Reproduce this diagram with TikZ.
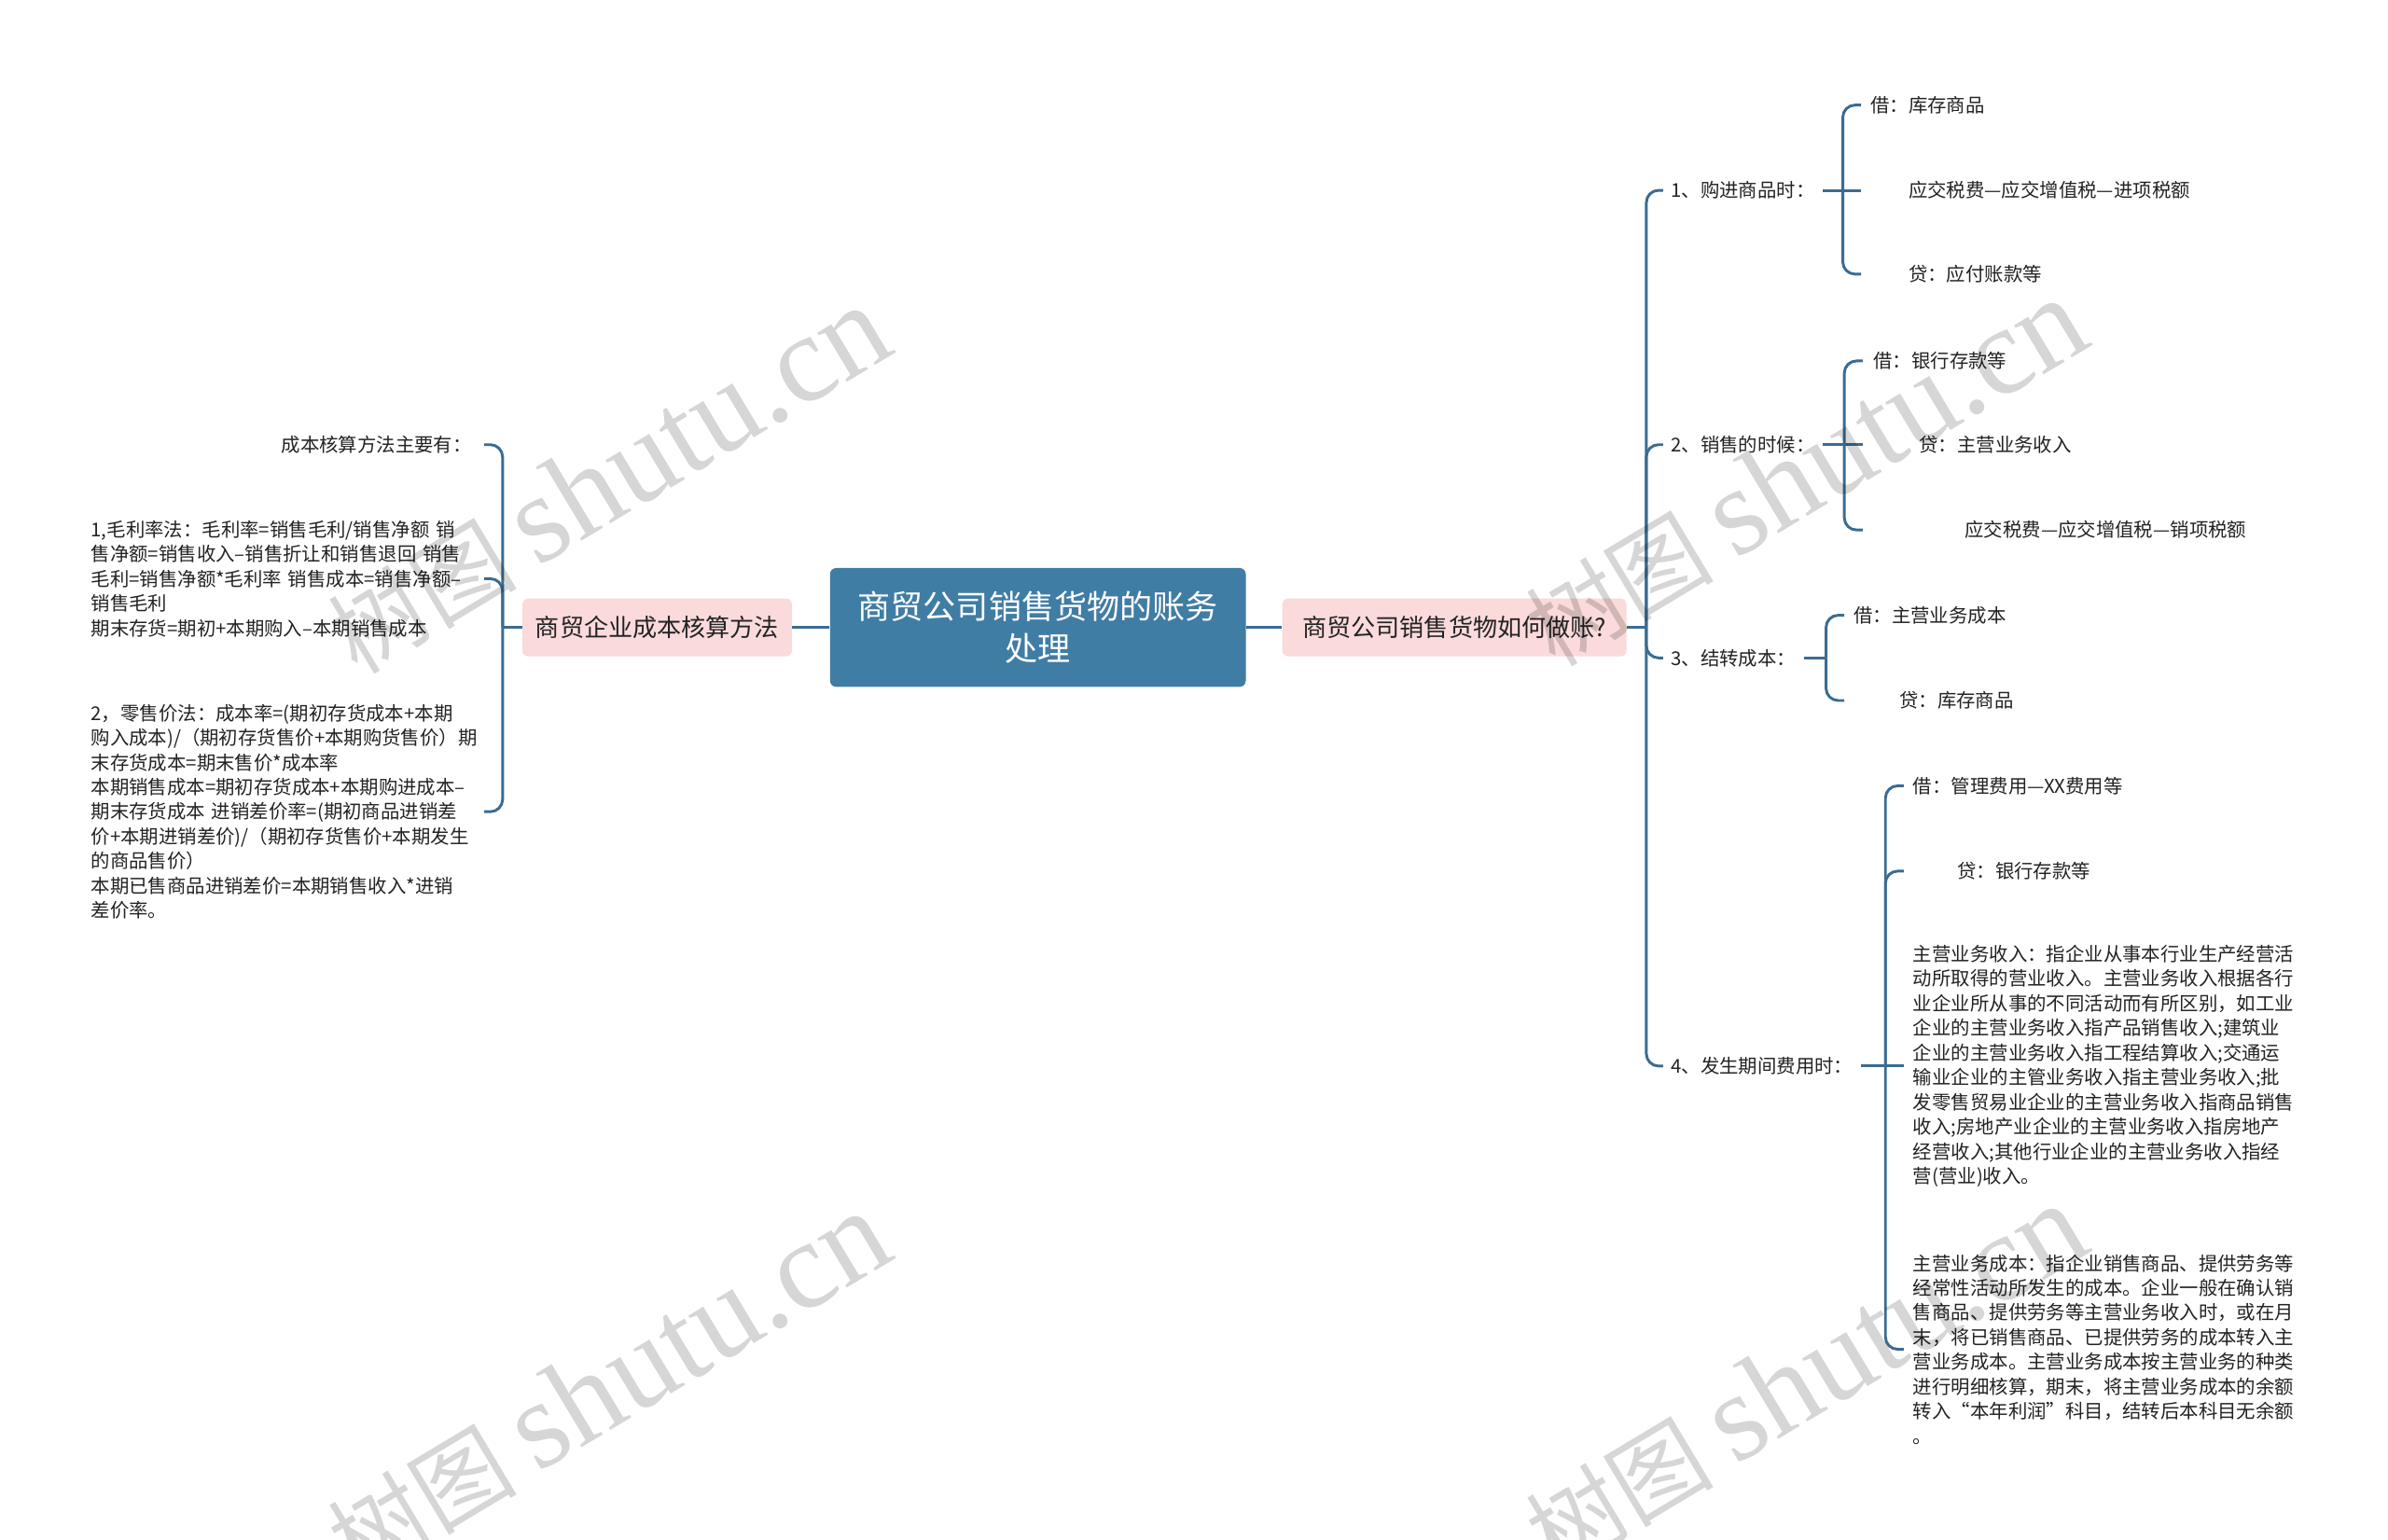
\documentclass[tikz,border=0pt]{standalone}
\usepackage{fontspec}
\setmainfont{Noto Sans CJK SC}
\newfontfamily\wmserif{Liberation Serif}
\usetikzlibrary{calc}
\definecolor{rootblue}{RGB}{64,125,165}
\definecolor{linec}{RGB}{58,108,146}
\definecolor{pinkc}{RGB}{250,218,218}
\definecolor{textc}{RGB}{35,35,35}
\begin{document}
\begin{tikzpicture}[x=1pt,y=-1pt,
  conn/.style={draw=linec, line width=1.8pt},
  elbow/.style={conn, rounded corners=8pt},
  rootbox/.style={fill=rootblue, rounded corners=4pt, minimum width=273pt, minimum height=78pt,
    text=white, align=center, font=\fontsize{21.5}{28}\selectfont, inner sep=0pt},
  pinkbox/.style={fill=pinkc, rounded corners=4pt, minimum height=38pt, inner sep=0pt,
    text=textc, font=\fontsize{16}{16}\selectfont},
  leaf/.style={inner ysep=0pt, inner xsep=6pt, text=textc, anchor=west,
    font=\fontsize{12.5}{16.2}\selectfont},
  para/.style={leaf, align=left},
  wm/.style={rotate=31, text=black, text opacity=0.16, inner sep=0pt}
]
\useasboundingbox[fill=white] (0,0) rectangle (1568,1011);

% central nodes
\node[rootbox] (root) at (681.5,412) {商贸公司销售货物的账务\\处理};
\node[pinkbox, minimum width=177pt] (L) at (431.5,412) {商贸企业成本核算方法};
\node[pinkbox, minimum width=226pt] (R) at (955,412) {商贸公司销售货物如何做账?};
\draw[conn] (root.west) -- (L.east);
\draw[conn] (root.east) -- (R.west);

% right first level
\coordinate (sR) at (1081,412);
\node[leaf, inner xsep=5pt] (c1) at (1092,125) {1、购进商品时：};
\node[leaf, inner xsep=5pt] (c2) at (1092,292) {2、销售的时候：};
\node[leaf, inner xsep=5pt] (c3) at (1092,432) {3、结转成本：};
\node[leaf, inner xsep=5pt] (c4) at (1092,700) {4、发生期间费用时：};
\draw[conn] (R.east) -- (sR);
\foreach \c in {c1,c2,c3,c4} \draw[elbow] (sR) |- (\c.west);

% group 1
\coordinate (s1) at (1210,125);
\node[leaf] (g11) at (1222,69) {借：库存商品};
\node[leaf, inner xsep=31pt] (g12) at (1222,125) {应交税费—应交增值税—进项税额};
\node[leaf, inner xsep=31pt] (g13) at (1222,180) {贷：应付账款等};
\draw[conn] (c1.east) -- (s1);
\draw[elbow] (s1) |- (g11.west);
\draw[conn] (s1) -- (g12.west);
\draw[elbow] (s1) |- (g13.west);

% group 2
\coordinate (s2) at (1211,292);
\node[leaf, inner xsep=7pt] (g21) at (1223,237) {借：银行存款等};
\node[leaf, inner xsep=37pt] (g22) at (1223,292) {贷：主营业务收入};
\node[leaf, inner xsep=67pt] (g23) at (1223,348) {应交税费—应交增值税—销项税额};
\draw[conn] (c2.east) -- (s2);
\draw[elbow] (s2) |- (g21.west);
\draw[conn] (s2) -- (g22.west);
\draw[elbow] (s2) |- (g23.west);

% group 3
\coordinate (s3) at (1199,432);
\node[leaf] (g31) at (1211,404) {借：主营业务成本};
\node[leaf, inner xsep=36pt] (g32) at (1211,460) {贷：库存商品};
\draw[conn] (c3.east) -- (s3);
\draw[elbow] (s3) |- (g31.west);
\draw[elbow] (s3) |- (g32.west);

% group 4
\coordinate (s4) at (1238,700);
\node[leaf] (g41) at (1250,516) {借：管理费用—XX费用等};
\node[leaf, inner xsep=35pt] (g42) at (1250,572) {贷：银行存款等};
\node[para] (g43) at (1250,700) {主营业务收入：指企业从事本行业生产经营活\\
动所取得的营业收入。主营业务收入根据各行\\
业企业所从事的不同活动而有所区别，如工业\\
企业的主营业务收入指产品销售收入;建筑业\\
企业的主营业务收入指工程结算收入;交通运\\
输业企业的主管业务收入指主营业务收入;批\\
发零售贸易业企业的主营业务收入指商品销售\\
收入;房地产业企业的主营业务收入指房地产\\
经营收入;其他行业企业的主营业务收入指经\\
营(营业)收入。};
\node[para] (g44) at (1250,886) {主营业务成本：指企业销售商品、提供劳务等\\
经常性活动所发生的成本。企业一般在确认销\\
售商品、提供劳务等主营业务收入时，或在月\\
末，将已销售商品、已提供劳务的成本转入主\\
营业务成本。主营业务成本按主营业务的种类\\
进行明细核算，期末，将主营业务成本的余额\\
转入“本年利润”科目，结转后本科目无余额\\
。};
\draw[conn] (c4.east) -- (s4);
\draw[elbow] (s4) |- (g41.west);
\draw[elbow] (s4) |- (g42.west);
\draw[conn] (s4) -- (g43.west);
\draw[elbow] (s4) |- (g44.west);

% left side
\coordinate (sL) at (330,412);
\node[leaf, anchor=east, inner xsep=8pt] (l1) at (318,292) {成本核算方法主要有：};
\node[para, anchor=east, text width=252pt] (l2) at (318,380) {1,毛利率法：毛利率=销售毛利/销售净额~销\\
售净额=销售收入–销售折让和销售退回~销售\\
毛利=销售净额*毛利率~销售成本=销售净额–\\
销售毛利\\
期末存货=期初+本期购入–本期销售成本};
\node[para, anchor=east, text width=252pt] (l3) at (318,533) {2，零售价法：成本率=(期初存货成本+本期\\
购入成本)/（期初存货售价+本期购货售价）期\\
末存货成本=期末售价*成本率\\
本期销售成本=期初存货成本+本期购进成本–\\
期末存货成本~进销差价率=(期初商品进销差\\
价+本期进销差价)/（期初存货售价+本期发生\\
的商品售价）\\
本期已售商品进销差价=本期销售收入*进销\\
差价率。};
\draw[conn] (L.west) -- (sL);
\draw[elbow] (sL) |- (l1.east);
\draw[elbow] (sL) |- (l2.east);
\draw[elbow] (sL) |- (l3.east);

% watermarks
\foreach \p/\n in {{(399,315)}/wa, {(399,910)}/wb, {(1185,310)}/wc, {(1185,905)}/wd}
  \node[wm] (\n) at \p {{\fontsize{62}{62}\selectfont 树图}\hspace{14pt}{\wmserif\fontsize{82}{82}\selectfont shutu.cn}};
\end{tikzpicture}
\end{document}
